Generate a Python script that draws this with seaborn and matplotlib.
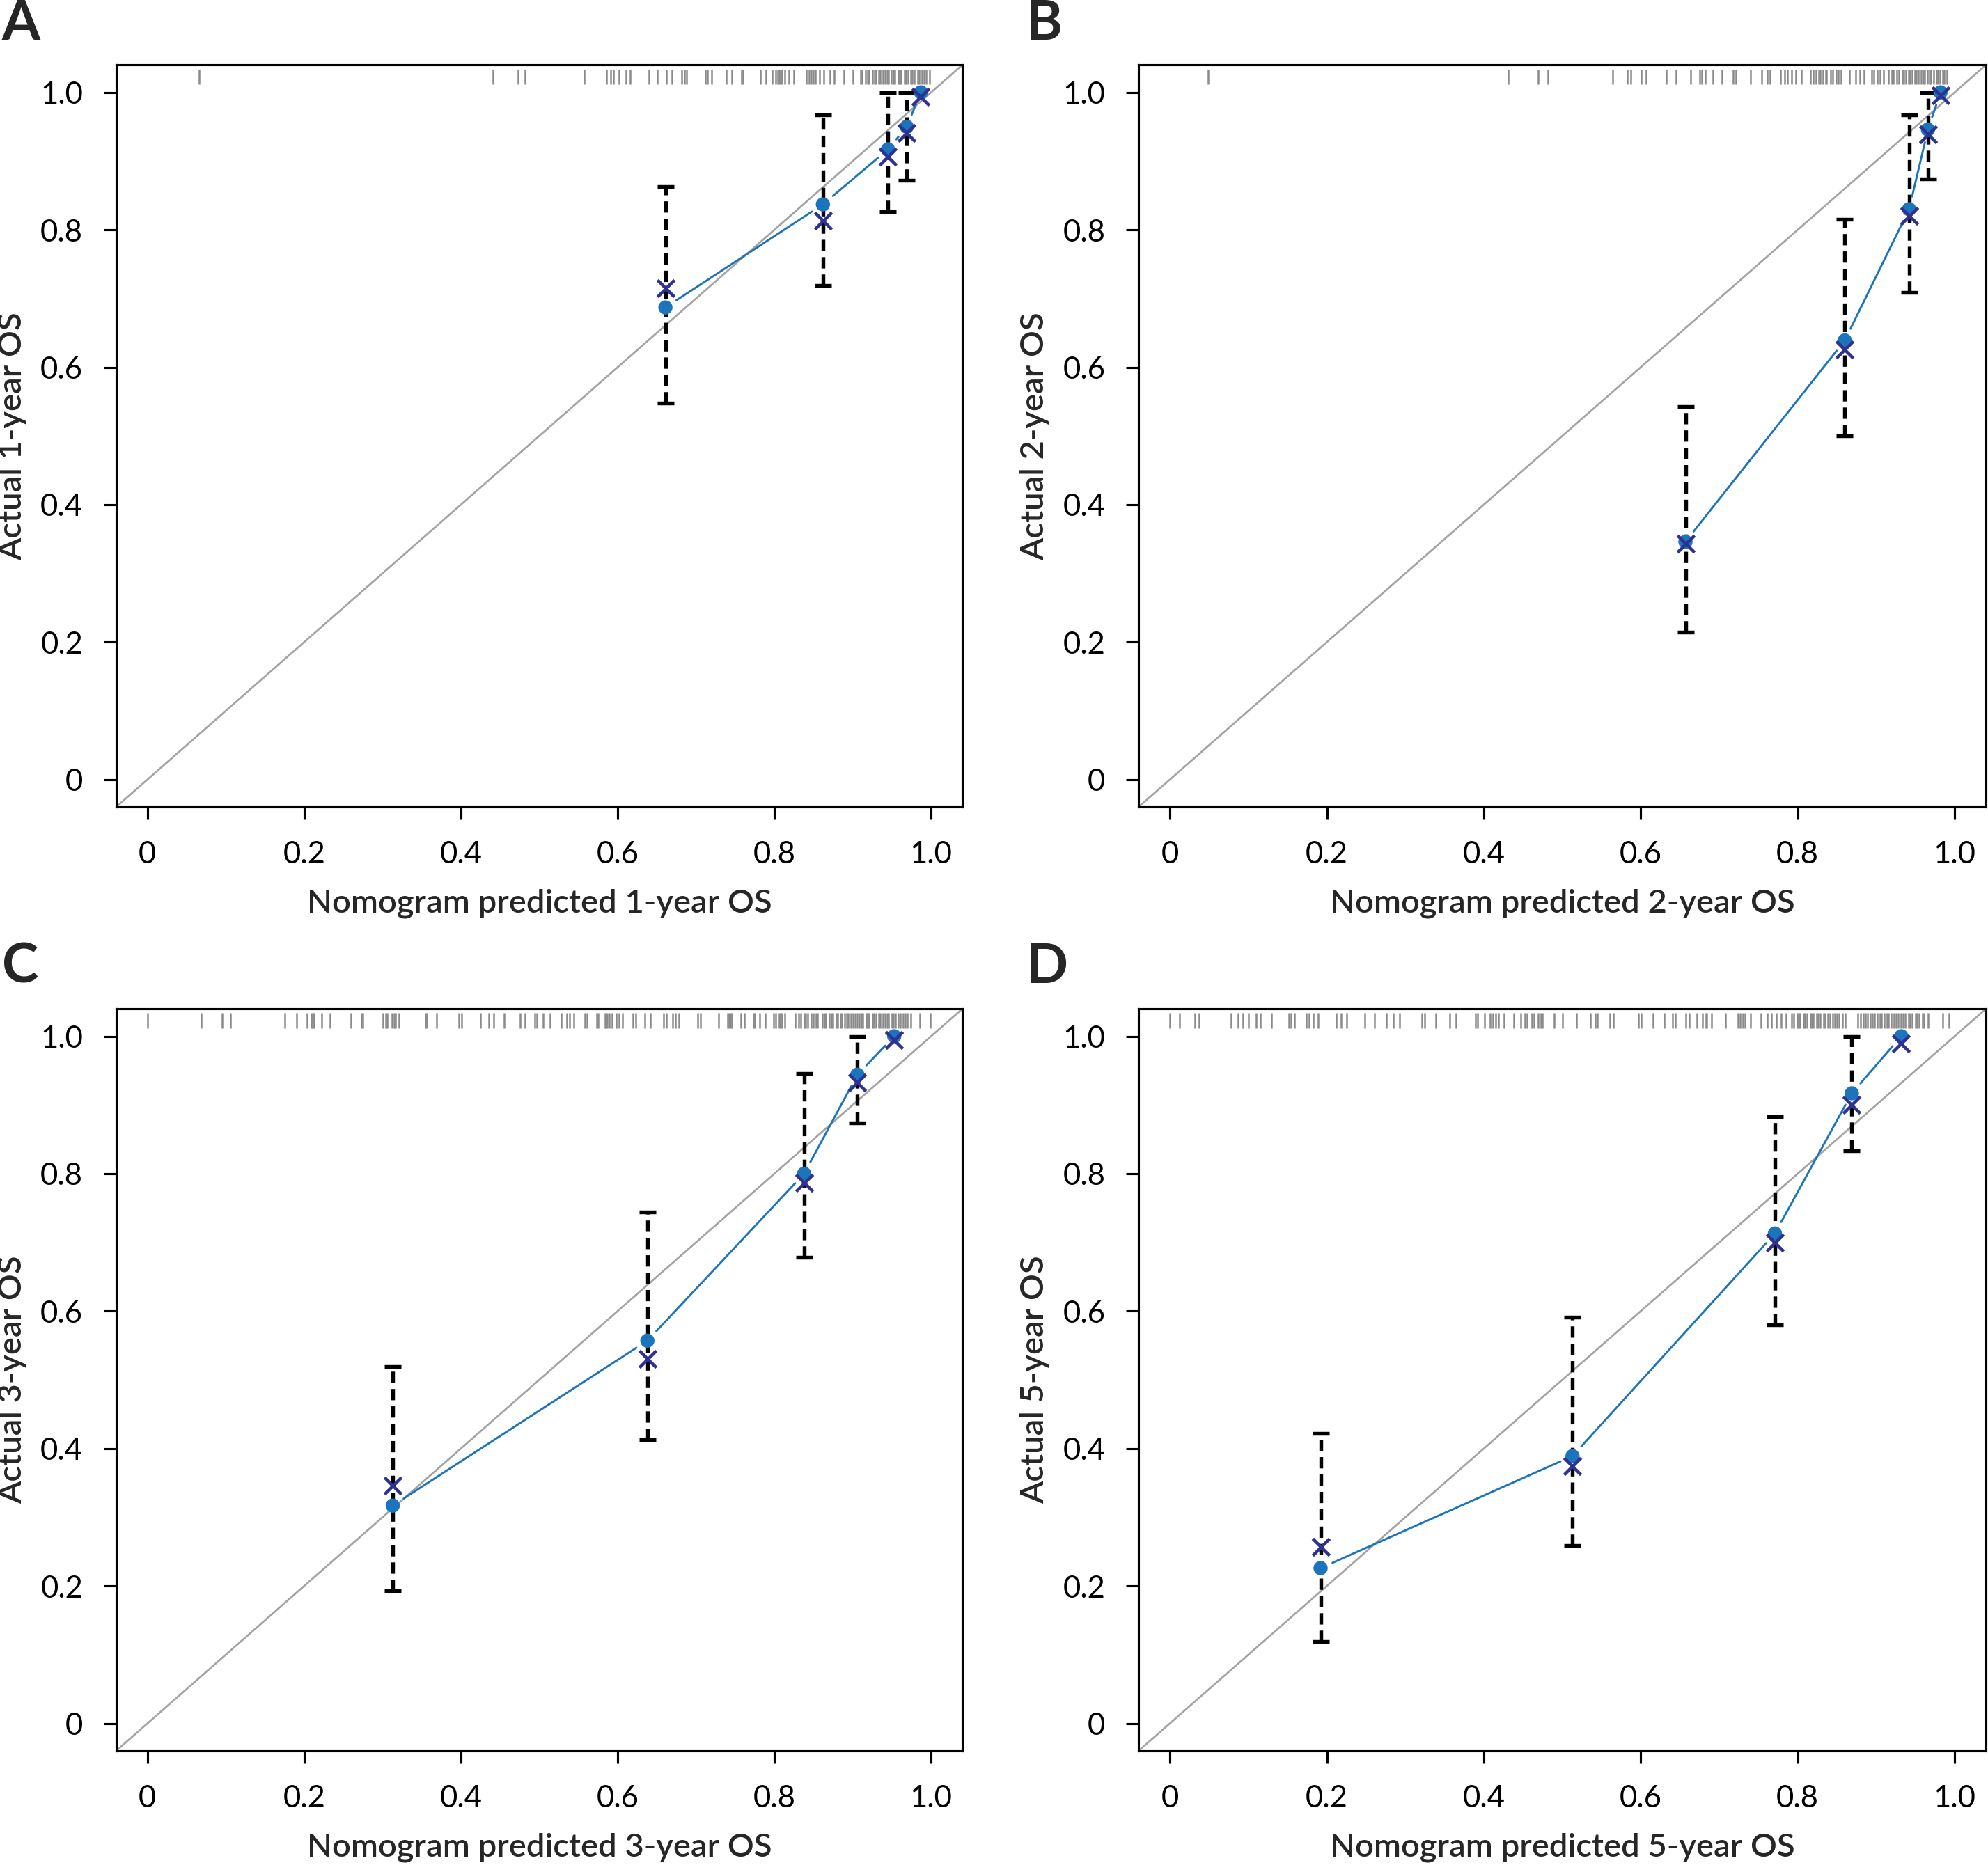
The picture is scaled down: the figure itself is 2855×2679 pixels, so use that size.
import matplotlib
matplotlib.use("Agg")
import matplotlib.pyplot as plt
import numpy as np
import seaborn as sns

# nomogram predicted survival (group means), observed KM, bias corrected, 95% CI
pred_1y = [0.661, 0.862, 0.945, 0.969, 0.987]
obs_1y = [0.687, 0.837, 0.917, 0.950, 1.000]
corr_1y = [0.715, 0.813, 0.907, 0.941, 0.994]
lo_1y = [0.548, 0.719, 0.826, 0.872, 1.000]
hi_1y = [0.863, 0.967, 1.000, 1.000, 1.000]

pred_2y = [0.657, 0.860, 0.942, 0.966, 0.982]
obs_2y = [0.346, 0.639, 0.830, 0.946, 1.000]
corr_2y = [0.343, 0.626, 0.820, 0.939, 0.996]
lo_2y = [0.215, 0.500, 0.709, 0.874, 1.000]
hi_2y = [0.543, 0.815, 0.967, 1.000, 1.000]

pred_3y = [0.313, 0.638, 0.838, 0.906, 0.953]
obs_3y = [0.317, 0.557, 0.800, 0.944, 1.000]
corr_3y = [0.346, 0.530, 0.787, 0.933, 0.994]
lo_3y = [0.193, 0.413, 0.678, 0.874, 1.000]
hi_3y = [0.519, 0.744, 0.946, 1.000, 1.000]

pred_5y = [0.192, 0.513, 0.771, 0.869, 0.932]
obs_5y = [0.226, 0.389, 0.713, 0.917, 1.000]
corr_5y = [0.257, 0.374, 0.700, 0.900, 0.989]
lo_5y = [0.119, 0.259, 0.580, 0.833, 1.000]
hi_5y = [0.422, 0.591, 0.883, 1.000, 1.000]

# rug of individual predicted values along the top edge
rug_1y = [0.066, 0.441, 0.473, 0.482, 0.557, 0.586, 0.591, 0.595, 0.602, 0.611,
          0.616, 0.640, 0.651, 0.662, 0.669, 0.682, 0.685, 0.688, 0.712, 0.715,
          0.720, 0.739, 0.746, 0.758, 0.760, 0.782, 0.789, 0.797, 0.802, 0.804,
          0.806, 0.808, 0.810, 0.813, 0.819, 0.825, 0.841, 0.844, 0.847, 0.850,
          0.852, 0.858, 0.863, 0.871, 0.876, 0.889, 0.900, 0.910, 0.912, 0.916,
          0.919, 0.921, 0.925, 0.928, 0.930, 0.933, 0.935, 0.939, 0.941, 0.944,
          0.946, 0.949, 0.952, 0.954, 0.958, 0.960, 0.962, 0.966, 0.968, 0.971,
          0.974, 0.976, 0.979, 0.983, 0.985, 0.988, 0.991, 0.994, 0.998]
rug_2y = [0.049, 0.431, 0.469, 0.482, 0.564, 0.583, 0.587, 0.601, 0.607, 0.633,
          0.645, 0.664, 0.675, 0.678, 0.682, 0.692, 0.704, 0.718, 0.721, 0.740,
          0.754, 0.761, 0.765, 0.778, 0.783, 0.787, 0.792, 0.798, 0.805, 0.816,
          0.820, 0.823, 0.827, 0.829, 0.832, 0.836, 0.837, 0.842, 0.845, 0.849,
          0.852, 0.855, 0.866, 0.874, 0.879, 0.885, 0.894, 0.897, 0.901, 0.905,
          0.909, 0.916, 0.920, 0.922, 0.926, 0.929, 0.933, 0.935, 0.938, 0.941,
          0.943, 0.946, 0.949, 0.951, 0.954, 0.957, 0.960, 0.962, 0.965, 0.968,
          0.970, 0.973, 0.977, 0.979, 0.981, 0.985, 0.987, 0.990]
rug_3y = [0.000, 0.069, 0.095, 0.106, 0.175, 0.190, 0.204, 0.209, 0.211, 0.213,
          0.222, 0.233, 0.260, 0.273, 0.275, 0.301, 0.304, 0.306, 0.312, 0.315,
          0.317, 0.321, 0.355, 0.357, 0.369, 0.397, 0.401, 0.425, 0.436, 0.442,
          0.455, 0.476, 0.482, 0.494, 0.497, 0.505, 0.514, 0.528, 0.535, 0.539,
          0.544, 0.558, 0.561, 0.573, 0.575, 0.584, 0.585, 0.587, 0.589, 0.593,
          0.598, 0.602, 0.606, 0.620, 0.623, 0.635, 0.642, 0.659, 0.662, 0.670,
          0.674, 0.678, 0.702, 0.706, 0.729, 0.740, 0.742, 0.744, 0.746, 0.757,
          0.762, 0.773, 0.775, 0.781, 0.788, 0.799, 0.802, 0.806, 0.808, 0.810,
          0.813, 0.827, 0.831, 0.834, 0.838, 0.840, 0.843, 0.847, 0.850, 0.853,
          0.855, 0.861, 0.864, 0.866, 0.870, 0.873, 0.875, 0.879, 0.881, 0.884,
          0.886, 0.890, 0.892, 0.894, 0.898, 0.900, 0.903, 0.906, 0.908, 0.911,
          0.913, 0.917, 0.919, 0.921, 0.925, 0.927, 0.930, 0.933, 0.935, 0.939,
          0.941, 0.944, 0.946, 0.950, 0.952, 0.955, 0.958, 0.961, 0.964, 0.967,
          0.970, 0.974, 0.986, 0.999]
rug_5y = [0.000, 0.012, 0.032, 0.037, 0.078, 0.087, 0.093, 0.100, 0.110, 0.115,
          0.129, 0.152, 0.154, 0.159, 0.174, 0.177, 0.183, 0.189, 0.212, 0.218,
          0.225, 0.248, 0.261, 0.276, 0.285, 0.293, 0.321, 0.325, 0.339, 0.357,
          0.365, 0.389, 0.392, 0.401, 0.408, 0.412, 0.415, 0.419, 0.426, 0.438,
          0.447, 0.452, 0.455, 0.461, 0.464, 0.469, 0.473, 0.475, 0.490, 0.500,
          0.518, 0.536, 0.542, 0.545, 0.561, 0.565, 0.597, 0.601, 0.616, 0.630,
          0.641, 0.644, 0.657, 0.662, 0.672, 0.679, 0.683, 0.684, 0.690, 0.708,
          0.724, 0.727, 0.730, 0.733, 0.740, 0.753, 0.761, 0.767, 0.773, 0.779,
          0.785, 0.792, 0.795, 0.799, 0.801, 0.803, 0.807, 0.809, 0.812, 0.816,
          0.818, 0.820, 0.824, 0.826, 0.829, 0.833, 0.835, 0.838, 0.841, 0.845,
          0.847, 0.850, 0.853, 0.857, 0.861, 0.877, 0.880, 0.884, 0.886, 0.889,
          0.893, 0.895, 0.898, 0.901, 0.905, 0.907, 0.910, 0.914, 0.916, 0.919,
          0.923, 0.925, 0.928, 0.932, 0.934, 0.937, 0.941, 0.943, 0.946, 0.950,
          0.952, 0.955, 0.959, 0.961, 0.966, 0.985, 0.993]

panels = [
    ("A", "1-year", pred_1y, obs_1y, corr_1y, lo_1y, hi_1y, rug_1y),
    ("B", "2-year", pred_2y, obs_2y, corr_2y, lo_2y, hi_2y, rug_2y),
    ("C", "3-year", pred_3y, obs_3y, corr_3y, lo_3y, hi_3y, rug_3y),
    ("D", "5-year", pred_5y, obs_5y, corr_5y, lo_5y, hi_5y, rug_5y),
]

sns.set_theme(style="ticks")
plt.rcParams["font.family"] = ["Lato", "DejaVu Sans"]
plt.rcParams["axes.linewidth"] = 0.75
plt.rcParams["xtick.major.width"] = 0.75
plt.rcParams["ytick.major.width"] = 0.75
plt.rcParams["xtick.major.size"] = 4.4
plt.rcParams["ytick.major.size"] = 4.4
plt.rcParams["xtick.major.pad"] = 7
plt.rcParams["ytick.major.pad"] = 7
plt.rcParams["xtick.color"] = "black"
plt.rcParams["ytick.color"] = "black"
plt.rcParams["axes.edgecolor"] = "black"

fig = plt.figure(figsize=(2855 / 300, 2679 / 300), dpi=300)
boxes = [[0.0584, 0.5673, 0.4257, 0.3979],
         [0.5727, 0.5673, 0.4263, 0.3979],
         [0.0584, 0.0612, 0.4257, 0.3979],
         [0.5727, 0.0612, 0.4263, 0.3979]]
letter_pos = [(0.001, 0.9787), (0.516, 0.9787), (0.001, 0.473), (0.516, 0.473)]

point_blue = "#1c75bc"
cross_blue = "#2e3192"
ticks = [0, 0.2, 0.4, 0.6, 0.8, 1.0]
tick_labels = ["0", "0.2", "0.4", "0.6", "0.8", "1.0"]

for (letter, horizon, pred, obs, corr, lo, hi, rug), box, lp in zip(panels, boxes, letter_pos):
    ax = fig.add_axes(box)
    pred = np.array(pred)
    obs = np.array(obs)
    corr = np.array(corr)
    lo = np.array(lo)
    hi = np.array(hi)

    # ideal line
    ax.plot([0, 1], [0, 1], transform=ax.transAxes, color="#a3a3a3", lw=0.65, zorder=1)

    # rug at the top
    ax.vlines(rug, 0.974, 0.994, transform=ax.get_xaxis_transform(),
              color="#8a8a8a", lw=0.6, zorder=1)

    # dashed error bars
    has_bar = hi > lo
    eb = ax.errorbar(pred[has_bar], obs[has_bar],
                     yerr=[obs[has_bar] - lo[has_bar], hi[has_bar] - obs[has_bar]],
                     fmt="none", ecolor="black", elinewidth=1.3, capsize=2.9,
                     capthick=1.3, zorder=2)
    eb[2][0].set_linestyle((0, (3.0, 1.6)))

    # line through observed points with gaps at the points
    for i in range(len(pred) - 1):
        ax.annotate("", xy=(pred[i + 1], obs[i + 1]), xytext=(pred[i], obs[i]),
                    arrowprops=dict(arrowstyle="-", color=point_blue, lw=0.7,
                                    shrinkA=4.5, shrinkB=4.5), zorder=3)

    sns.scatterplot(x=pred, y=obs, ax=ax, marker="o", s=24, color=point_blue,
                    edgecolor="none", zorder=4, legend=False)
    sns.scatterplot(x=pred, y=corr, ax=ax, marker="x", s=34, color=cross_blue,
                    linewidth=1.1, zorder=5, legend=False)

    ax.set_xlim(-0.04, 1.04)
    ax.set_ylim(-0.04, 1.04)
    ax.set_xticks(ticks)
    ax.set_xticklabels(tick_labels)
    ax.set_yticks(ticks)
    ax.set_yticklabels(tick_labels)
    ax.tick_params(labelsize=10.5)
    ax.set_xlabel(f"Nomogram predicted {horizon} OS", fontsize=11.3, fontweight="semibold",
                  labelpad=7)
    ax.set_ylabel(f"Actual {horizon} OS", fontsize=11.3, fontweight="semibold")
    ax.yaxis.set_label_coords(-0.105, 0.5)
    for side in ["top", "right", "left", "bottom"]:
        ax.spines[side].set_visible(True)

    fig.text(lp[0], lp[1], letter, fontsize=19, fontweight="bold", va="baseline", ha="left")

fig.savefig("out.png", dpi=300)
